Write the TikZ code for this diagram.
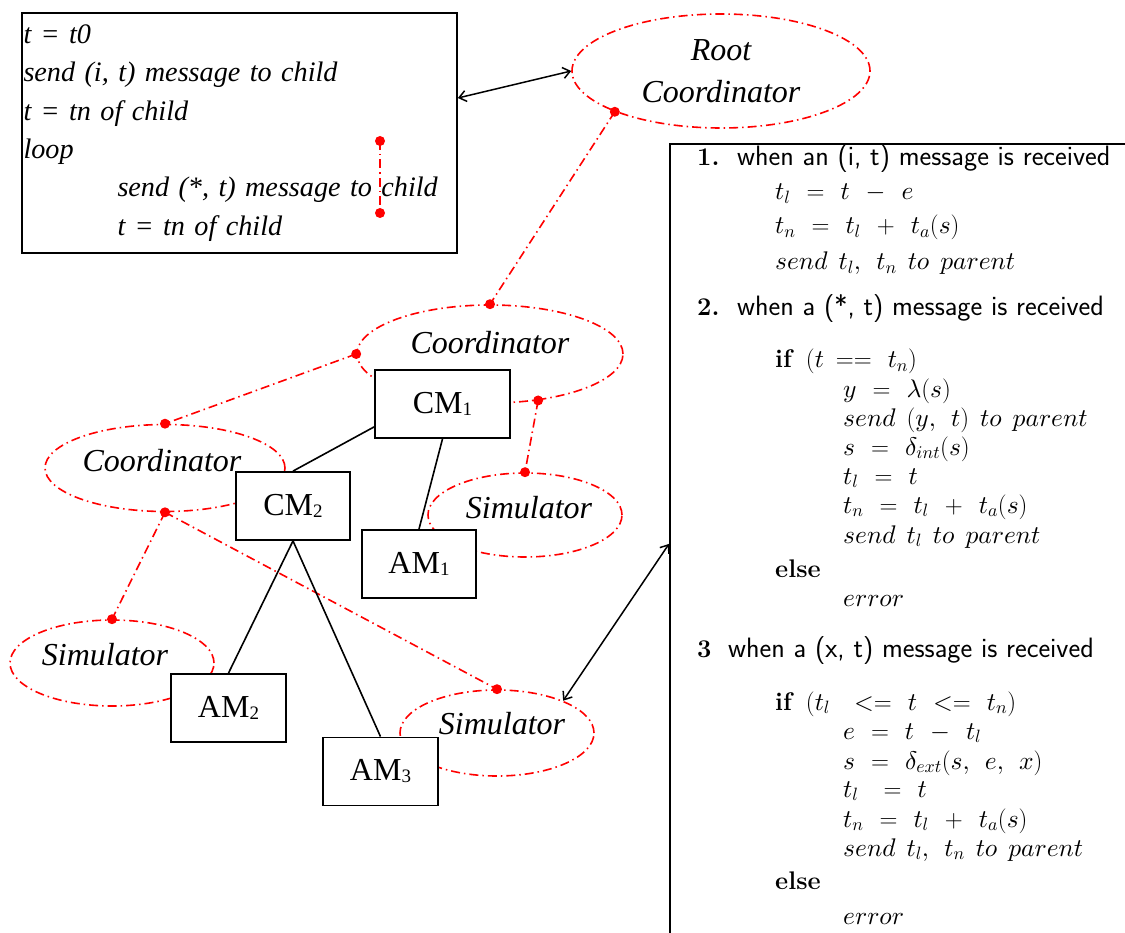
\documentclass[tikz,border=0pt]{standalone}
\usepackage{fontspec}
\DeclareFontShape{OML}{cmm}{m}{it}{<->cmmi10}{}
\DeclareFontShape{OMS}{cmsy}{m}{n}{<->cmsy10}{}
\newfontfamily\tnr{Liberation Serif}[ItalicFont={Liberation Serif Italic},BoldFont={Liberation Serif Bold}]
\usetikzlibrary{shapes.geometric,arrows.meta,calc}
\newcommand{\shiftlbl}[3]{\raisebox{#2}[\height][\depth]{\kern#1\relax #3\kern-#1\relax}}
\newcommand{\bsub}[2]{#1{\fontsize{19}{19}\selectfont\raisebox{-2pt}{#2}}}
\newcommand{\gw}{\hspace{11pt}}
\newcommand{\gs}{\hspace{16pt}}
\newcommand{\sftxt}[1]{{\sffamily\fontsize{28}{30}\selectfont #1}}
\begin{document}
\begin{tikzpicture}[x=1pt,y=-1pt,
  dd/.style={draw=red, line width=1.6pt, dash pattern=on 9pt off 4pt on 1.5pt off 4pt},
  ell/.style={ellipse, dd, inner sep=0pt, font=\tnr\itshape\fontsize{32}{42}\selectfont},
  mbox/.style={draw, line width=1.8pt, fill=white, minimum height=68pt, inner sep=0pt, font=\tnr\fontsize{32}{36}\selectfont},
  conn/.style={draw, line width=1.6pt},
  dblarrow/.style={draw, line width=1.5pt, {Straight Barb[length=7pt,width=11pt]}-{Straight Barb[length=7pt,width=11pt]}},
  rtext/.style={anchor=base west, inner sep=0pt, font=\fontsize{25.5}{30}\selectfont}
]
\useasboundingbox (0,0) rectangle (1125,933);
\clip (0,0) rectangle (1125,933);
\fill[white] (0,0) rectangle (1125,933);

% ellipses
\node[ell, minimum width=298pt, minimum height=114pt, align=center] (root) at (721,71) {Root\\Coordinator};
\node[ell, minimum width=266pt, minimum height=98pt] (co1) at (490,354) {\shiftlbl{0pt}{11pt}{Coordinator}};
\node[ell, minimum width=240pt, minimum height=87pt] (co2) at (165,468) {\shiftlbl{-3pt}{7pt}{Coordinator}};
\node[ell, minimum width=194pt, minimum height=84pt] (sim1) at (525,515) {\shiftlbl{4pt}{7pt}{Simulator}};
\node[ell, minimum width=204pt, minimum height=86pt] (sim2) at (112,663) {\shiftlbl{-7pt}{8pt}{Simulator}};
\node[ell, minimum width=194pt, minimum height=86pt] (sim3) at (497,733) {\shiftlbl{5pt}{9pt}{Simulator}};

% left code box
\node[draw, line width=1.8pt, minimum width=435pt, minimum height=240pt, inner xsep=1.5pt, inner ysep=0pt,
      text width=432pt, align=left, font=\tnr\itshape\fontsize{28.2}{38.4}\selectfont] (code) at (239.5,133)
  {t = t0\\
   send (i, t) message to child\\
   t = tn of child\\
   loop\\
   \hspace*{94pt}send (*, t) message to child\\
   \hspace*{94pt}t = tn of child\\[-6pt]};

% dot coordinates
\coordinate (ca) at (380,141);
\coordinate (cb) at (380,213);
\coordinate (rootdot) at (root.201);
\coordinate (c1top) at (co1.north);
\coordinate (c1left) at (co1.west);
\coordinate (c1br) at (co1.-44);
\coordinate (s1top) at (sim1.north);
\coordinate (c2top) at (co2.north);
\coordinate (c2bot) at (co2.south);
\coordinate (s2top) at (sim2.north);
\coordinate (s3top) at (sim3.north);

% red connectors
\draw[dd] (ca) -- (cb);
\draw[dd] (rootdot) -- (c1top);
\draw[dd] (c1left) -- (c2top);
\draw[dd] (c1br) -- (s1top);
\draw[dd] (c2bot) -- (s2top);
\draw[dd] (c2bot) -- (s3top);

% model boxes
\node[mbox, minimum width=135pt] (cm1) at (442.5,404) {\bsub{CM}{1}};
\node[mbox, minimum width=114pt] (am1) at (419,564) {\bsub{AM}{1}};
\node[mbox, minimum width=114pt] (cm2) at (293,506) {\bsub{CM}{2}};
\node[mbox, minimum width=115pt] (am2) at (228.5,708) {\bsub{AM}{2}};
\node[mbox, minimum width=115pt] (am3) at (380.5,771.5) {\bsub{AM}{3}};

\path[conn] (cm1.south) -- (am1.north);
\path[conn] ([yshift=12pt]cm1.south west) -- (cm2.north);
\path[conn] (cm2.south) -- (am2.north);
\path[conn] (cm2.south) -- (am3.north);

% right box
\node[draw, line width=1.8pt, minimum width=600pt, minimum height=900pt, anchor=north west, inner sep=0pt] (rbox) at (669,143) {};

% arrows
\path[dblarrow] ([yshift=35pt]code.east) -- (root.west);
\path[dblarrow] ([yshift=50pt]rbox.west) -- (sim3.26);

% dots
\foreach \p in {ca,cb,rootdot,c1top,c1left,c1br,s1top,c2top,c2bot,s2top,s3top}
  \fill[red] (\p) circle (5pt);

% right box text
\node[rtext] (r1) at (697,166) {\textbf{1.}};
\node[rtext] (r2) at (737,166) {\sftxt{when an (i, t) message is received}};
\node[rtext] (r3) at (775,200) {$t_l\gs{=}\gs t\gs{-}\gs e$};
\node[rtext] (r4) at (775,234) {$t_n\gs{=}\gs t_l\gs{+}\gs t_a(s)$};
\node[rtext] (r5) at (775,270) {$send\gw t_l,\gw t_n\gw to\gw parent$};
\node[rtext] (r6) at (697,316) {\textbf{2.}};
\node[rtext] (r7) at (737,316) {\sftxt{when a (*, t) message is received}};
\node[rtext] (r8) at (775,368) {\textbf{if}\hspace{12pt}$(t\hspace{12pt}{==}\gs t_n)$};
\node[rtext] (r9) at (843,398) {$y\gs{=}\gs\lambda(s)$};
\node[rtext] (r10) at (843,426) {$send\gw(y,\gw t)\gw to\gw parent$};
\node[rtext] (r11) at (843,455) {$s\gs{=}\gs\delta_{int}(s)$};
\node[rtext] (r12) at (843,484) {$t_l\gs{=}\gs t$};
\node[rtext] (r13) at (843,513) {$t_n\gs{=}\gs t_l\gs{+}\gs t_a(s)$};
\node[rtext] (r14) at (843,543) {$send\gw t_l\gw to\gw parent$};
\node[rtext] (r15) at (775,577) {\textbf{else}};
\node[rtext] (r16) at (843,606) {$error$};
\node[rtext] (r17) at (697,657) {\textbf{3}};
\node[rtext] (r18) at (728,657) {\sftxt{when a (x, t) message is received}};
\node[rtext] (r19) at (775,710) {\textbf{if}\hspace{12pt}$(t_l\hspace{24pt}{<=}\gs t\gs{<=}\gs t_n)$};
\node[rtext] (r20) at (843,739) {$e\gs{=}\gs t\gs{-}\gs t_l$};
\node[rtext] (r21) at (843,769) {$s\gs{=}\gs\delta_{ext}(s,\gw e,\gw x)$};
\node[rtext] (r22) at (843,797) {$t_l\hspace{25pt}{=}\gs t$};
\node[rtext] (r23) at (843,827) {$t_n\gs{=}\gs t_l\gs{+}\gs t_a(s)$};
\node[rtext] (r24) at (843,856) {$send\gw t_l,\gw t_n\gw to\gw parent$};
\node[rtext] (r25) at (775,889) {\textbf{else}};
\node[rtext] (r26) at (843,924) {$error$};
\end{tikzpicture}
\end{document}
